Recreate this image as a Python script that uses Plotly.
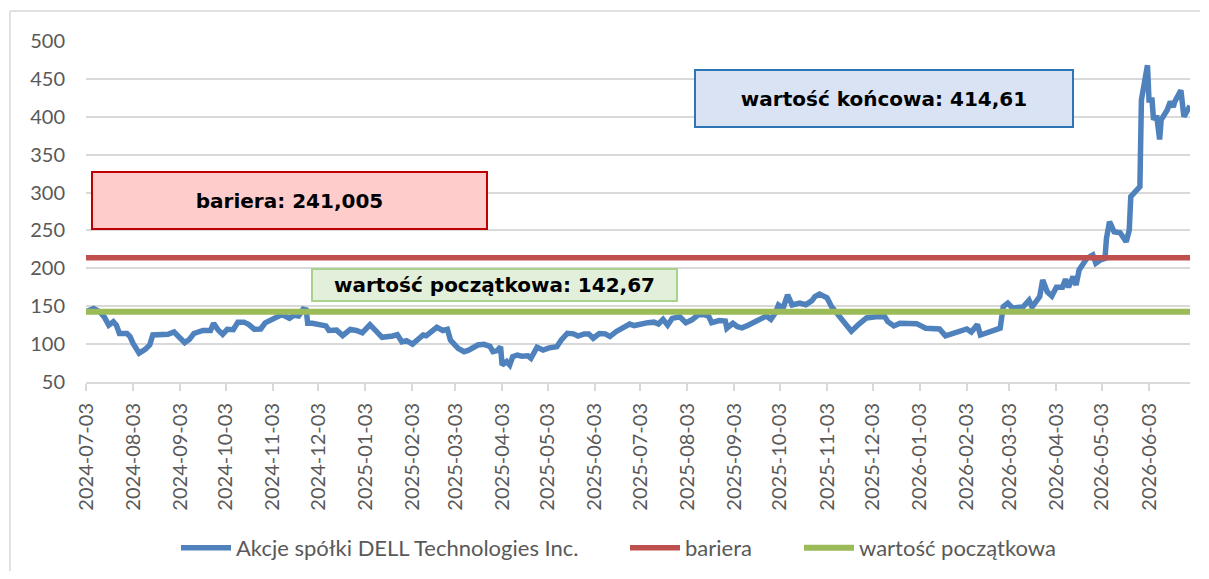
import plotly.graph_objects as go

# ---------------- data ----------------
dates = [
    "2024-07-03", "2024-07-08", "2024-07-12", "2024-07-15", "2024-07-18", "2024-07-21",
    "2024-07-23", "2024-07-25", "2024-07-30", "2024-08-01", "2024-08-03", "2024-08-07",
    "2024-08-11", "2024-08-14", "2024-08-16", "2024-08-20", "2024-08-26", "2024-08-30",
    "2024-09-02", "2024-09-06", "2024-09-09", "2024-09-12", "2024-09-18", "2024-09-23",
    "2024-09-25", "2024-09-28", "2024-10-01", "2024-10-04", "2024-10-08", "2024-10-11",
    "2024-10-15", "2024-10-18", "2024-10-22", "2024-10-26", "2024-10-29", "2024-11-02",
    "2024-11-06", "2024-11-09", "2024-11-14", "2024-11-17", "2024-11-20", "2024-11-23",
    "2024-11-25", "2024-11-26", "2024-11-29", "2024-12-04", "2024-12-08", "2024-12-10",
    "2024-12-15", "2024-12-19", "2024-12-24", "2024-12-28", "2025-01-01", "2025-01-06",
    "2025-01-10", "2025-01-14", "2025-01-21", "2025-01-24", "2025-01-27", "2025-01-30",
    "2025-02-03", "2025-02-07", "2025-02-10", "2025-02-12", "2025-02-15", "2025-02-19",
    "2025-02-23", "2025-02-26", "2025-02-28", "2025-03-05", "2025-03-09", "2025-03-12",
    "2025-03-18", "2025-03-22", "2025-03-26", "2025-03-28", "2025-03-31", "2025-04-02",
    "2025-04-03", "2025-04-06", "2025-04-08", "2025-04-10", "2025-04-13", "2025-04-16",
    "2025-04-20", "2025-04-22", "2025-04-26", "2025-04-30", "2025-05-04", "2025-05-09",
    "2025-05-12", "2025-05-16", "2025-05-20", "2025-05-23", "2025-05-27", "2025-05-30",
    "2025-06-02", "2025-06-06", "2025-06-10", "2025-06-13", "2025-06-17", "2025-06-22",
    "2025-06-26", "2025-06-29", "2025-07-03", "2025-07-08", "2025-07-12", "2025-07-15",
    "2025-07-18", "2025-07-21", "2025-07-24", "2025-07-29", "2025-08-02", "2025-08-06",
    "2025-08-10", "2025-08-14", "2025-08-17", "2025-08-19", "2025-08-24", "2025-08-28",
    "2025-08-29", "2025-09-02", "2025-09-05", "2025-09-08", "2025-09-12", "2025-09-16",
    "2025-09-19", "2025-09-24", "2025-09-27", "2025-09-30", "2025-10-02", "2025-10-05",
    "2025-10-08", "2025-10-11", "2025-10-16", "2025-10-20", "2025-10-24", "2025-10-26",
    "2025-10-29", "2025-11-03", "2025-11-06", "2025-11-13", "2025-11-19", "2025-11-24",
    "2025-11-29", "2025-12-05", "2025-12-11", "2025-12-13", "2025-12-17", "2025-12-21",
    "2026-01-01", "2026-01-07", "2026-01-16", "2026-01-20", "2026-01-27", "2026-02-03",
    "2026-02-06", "2026-02-10", "2026-02-12", "2026-02-20", "2026-02-25", "2026-02-27",
    "2026-03-02", "2026-03-05", "2026-03-12", "2026-03-16", "2026-03-18", "2026-03-23",
    "2026-03-25", "2026-03-28", "2026-03-31", "2026-04-03", "2026-04-07", "2026-04-09",
    "2026-04-11", "2026-04-14", "2026-04-16", "2026-04-18", "2026-04-23", "2026-04-27",
    "2026-04-29", "2026-05-02", "2026-05-05", "2026-05-06", "2026-05-08", "2026-05-11",
    "2026-05-15", "2026-05-16", "2026-05-19", "2026-05-21", "2026-05-22", "2026-05-28",
    "2026-05-29", "2026-06-02", "2026-06-03", "2026-06-05", "2026-06-06", "2026-06-08",
    "2026-06-10", "2026-06-11", "2026-06-15", "2026-06-17", "2026-06-19", "2026-06-20",
    "2026-06-24", "2026-06-26", "2026-06-30",
]

prices = [
    142.67, 147, 142.8, 136, 125, 129.5,
    125, 114, 114, 110, 101, 88,
    93, 99, 112, 113, 113, 116,
    110, 102, 106, 114, 118, 118,
    127.5, 118.6, 113, 119.5, 119, 129,
    129, 126, 119.5, 120, 128, 132,
    138, 139, 134, 138, 137, 146,
    145, 127.5, 127.5, 126, 124, 118,
    118.5, 111.3, 119.5, 118, 115, 125.6,
    116.4, 109, 110.7, 112.5, 103, 104.5,
    100, 106.4, 112, 111, 116.4, 122.2,
    118, 119.5, 105.4, 94.4, 90, 92,
    98.8, 99.7, 97, 90, 91.5, 96.6,
    72.4, 77, 72.4, 83.4, 85.6, 84,
    84.5, 81.2, 95.8, 92.2, 95, 96.6,
    105.4, 114.3, 113.5, 110.7, 113.5, 113.5,
    107.7, 114, 113.5, 110, 116.4, 121,
    126.5, 124.5, 126.5, 128.3, 129, 126.5,
    132.7, 125, 134, 136, 128.3, 132,
    138.4, 139, 137, 128.3, 131, 130.5,
    121, 127.5, 123, 121.5, 125, 129.5,
    132.7, 137, 132.7, 141.4, 151.6, 147.3,
    164.8, 151.6, 154, 152, 157.4, 162.6,
    166, 161, 149.4, 131.8, 117, 126.5,
    134.5, 136, 136, 129.6, 124, 127.5,
    127, 121, 120, 111, 115, 120,
    116, 126, 112, 118.6, 121, 149.4,
    154, 147.7, 149, 158, 149, 162.6,
    184.6, 169, 163.5, 175, 175, 185.5,
    175, 189, 178, 198, 213, 217.6,
    206.7, 211, 213, 239.6, 261.6, 248.3,
    247, 244, 235, 250.6, 294.5, 307.7,
    422, 468, 422, 422, 396, 402,
    370, 396, 409, 420, 413, 420,
    435, 400, 414.61,
]

initial_value = 142.67
barrier_value = 214.005

tick_dates = [
    "2024-07-03", "2024-08-03", "2024-09-03", "2024-10-03", "2024-11-03", "2024-12-03",
    "2025-01-03", "2025-02-03", "2025-03-03", "2025-04-03", "2025-05-03", "2025-06-03",
    "2025-07-03", "2025-08-03", "2025-09-03", "2025-10-03", "2025-11-03", "2025-12-03",
    "2026-01-03", "2026-02-03", "2026-03-03", "2026-04-03", "2026-05-03", "2026-06-03",
]
y_ticks = [50, 100, 150, 200, 250, 300, 350, 400, 450, 500]

series_names = ["Akcje spółki DELL Technologies Inc.", "bariera", "wartość początkowa"]
label_barrier = "bariera: 241,005"
label_initial = "wartość początkowa: 142,67"
label_final = "wartość końcowa: 414,61"

# ---------------- figure ----------------
OFF = 8  # the page body has an 8px margin
W, H = 1209 - 2 * OFF, 579 - 2 * OFF
PL, PR, PT, PB = 86, 1190, 41, 382        # plot area in the reference picture
PW, PH = PR - PL, PB - PT


def px(xp):
    return (xp - PL) / PW


def py(yp):
    return (PB - yp) / PH


BLUE = "#4F81BD"
RED = "#C0504D"
GREEN = "#9BBB59"
GRID = "#D9D9D9"
TXT = "#595959"
FONT = "Lato, 'Open Sans', sans-serif"

fig = go.Figure()
fig.add_trace(go.Scatter(
    x=dates, y=prices, mode="lines", name=series_names[0], legend="legend",
    line=dict(color=BLUE, width=5.5),
))
fig.add_trace(go.Scatter(
    x=[dates[0], dates[-1]], y=[barrier_value, barrier_value], mode="lines",
    name=series_names[1], legend="legend2", line=dict(color=RED, width=5.5),
))
fig.add_trace(go.Scatter(
    x=[dates[0], dates[-1]], y=[initial_value, initial_value], mode="lines",
    name=series_names[2], legend="legend3", line=dict(color=GREEN, width=6),
))

boxes = [
    (label_barrier, 92, 487, 172, 229, "#FFCCCC", "#C00000"),
    (label_initial, 312, 677, 269, 301, "#E2EFDA", "#A9D18E"),
    (label_final, 695, 1073, 70, 127, "#DAE3F3", "#2E75B6"),
]
annotations = []
for text, x0, x1, y0, y1, bg, bc in boxes:
    annotations.append(dict(
        text=text, xref="paper", yref="paper",
        x=px((x0 + x1) / 2), y=py((y0 + y1) / 2),
        xanchor="center", yanchor="middle", showarrow=False,
        width=x1 - x0 - 2, height=y1 - y0 - 2, borderpad=0,
        bgcolor=bg, bordercolor=bc, borderwidth=2,
        font=dict(family="DejaVu Sans", size=20, color="#000000", weight="bold"),
        align="center", valign="middle",
    ))

# chart-area frame: only its left and top edges fall inside the picture
shapes = [
    dict(type="line", xref="paper", yref="paper",
         x0=px(10), x1=px(10), y0=py(610), y1=py(11),
         line=dict(color=GRID, width=1.5), layer="below"),
    dict(type="line", xref="paper", yref="paper",
         x0=px(10), x1=px(1200), y0=py(11), y1=py(11),
         line=dict(color=GRID, width=1.5), layer="below"),
]


def legend_at(xc):
    return dict(
        orientation="h", x=px(xc), xanchor="center", y=py(548), yanchor="middle",
        font=dict(family=FONT, size=22, color=TXT),
        bgcolor="rgba(0,0,0,0)", itemwidth=50,
    )


fig.update_layout(
    width=W, height=H,
    margin=dict(l=PL - OFF, r=W - (PR - OFF), t=PT - OFF, b=H - (PB - OFF), autoexpand=False),
    paper_bgcolor="white", plot_bgcolor="white",
    font=dict(family=FONT, color=TXT),
    showlegend=True,
    legend=legend_at(380),
    legend2=legend_at(691),
    legend3=legend_at(930),
    annotations=annotations,
    shapes=shapes,
    xaxis=dict(
        type="date", range=[dates[0], dates[-1]],
        tickmode="array", tickvals=tick_dates, ticktext=tick_dates,
        tickangle=-90, tickfont=dict(family=FONT, size=20, color=TXT),
        ticks="outside", ticklen=7, tickwidth=2, tickcolor=GRID,
        showline=True, linecolor=GRID, linewidth=2,
        showgrid=False, zeroline=False, automargin=False,
        ticklabelstandoff=4,
    ),
    yaxis=dict(
        range=[50, 500], tickmode="array", tickvals=y_ticks,
        tickfont=dict(family=FONT, size=20, color=TXT),
        showgrid=True, gridcolor=GRID, gridwidth=2,
        zeroline=False, showline=False, ticks="", automargin=False,
        ticklabelstandoff=20,
    ),
)

fig.write_html("out.html")
